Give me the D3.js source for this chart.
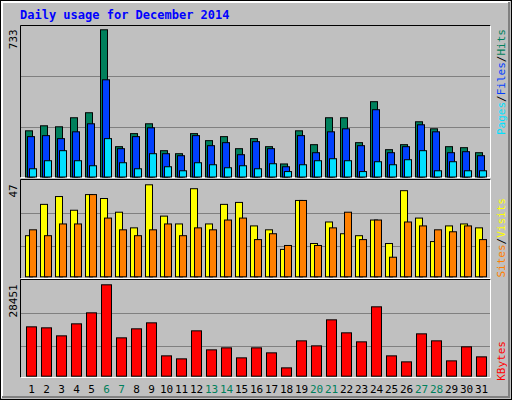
<!DOCTYPE html><html><head><script src="https://cdn.jsdelivr.net/npm/d3@7"></script>
<style>body{margin:0;background:#fff}</style></head><body>
<script>
const days = d3.range(1,32);
const weekend = [6,7,13,14,20,21,27,28];
const hits  = [230,255,250,295,320,733,151,216,265,131,116,216,181,201,141,191,151,65,230,161,295,295,171,375,136,161,275,240,151,146,121];
const files = [201,206,191,225,265,484,141,201,245,116,106,206,156,171,111,176,141,51,206,121,225,240,156,335,121,151,260,225,121,126,106];
const pages = [41,81,131,81,56,191,71,41,116,51,31,71,61,46,56,41,66,27,61,81,91,81,27,76,61,86,131,31,76,31,31];
const sites = [21,37,41,34,42,40,33,25,47,31,27,45,27,37,38,26,24,14,39,17,28,22,21,29,17,44,30,18,26,27,25];
const visits= [24,21,27,27,42,30,24,21,24,27,21,25,24,29,30,19,22,16,39,16,25,33,19,29,10,28,26,24,23,26,19];
const kbytes= [15365,15055,12563,16300,19725,28451,11940,14745,16610,6333,5400,14120,8200,8825,5710,8825,7268,2596,11005,9448,17545,13500,10694,21597,6333,4464,13186,11005,4776,9137,6022];

const W=512,H=400;
const svg=d3.select("body").append("svg").attr("width",W).attr("height",H);
svg.append("rect").attr("width",W).attr("height",H).attr("fill","#c0c0c0");
// outer bevel
svg.append("rect").attr("x",0.5).attr("y",0.5).attr("width",W-1).attr("height",H-1).attr("fill","none").attr("stroke","#000");
svg.append("path").attr("d",`M2,${H-2}V2H${W-2}`).attr("stroke","#fff").attr("fill","none").attr("stroke-width",2);
svg.append("path").attr("d",`M2,${H-3}H${W-3}V2`).attr("stroke","#808080").attr("fill","none").attr("stroke-width",2);

svg.append("text").attr("x",20).attr("y",19).text("Daily usage for December 2014")
 .attr("font-family","DejaVu Sans Mono").attr("font-weight","bold").attr("font-size",12).attr("fill","#0000ff");

const x=d3.scaleBand().domain(days).range([20,485]).paddingInner(0).paddingOuter(0);
const mono="DejaVu Sans Mono";

function panel(y0,y1,max){
  const g=svg.append("g");
  g.append("rect").attr("x",20.5).attr("y",y0+0.5).attr("width",470).attr("height",y1-y0).attr("fill","#c0c0c0");
  g.append("path").attr("d",`M20.5,${y1+0.5}V${y0+0.5}H490.5`).attr("stroke","#000").attr("fill","none");
  g.append("path").attr("d",`M20.5,${y1+0.5}H490.5V${y0+0.5}`).attr("stroke","#fff").attr("fill","none");
  return g;
}
const y1s=d3.scaleLinear().domain([0,733]).range([176.5,29.3]);
const y2s=d3.scaleLinear().domain([0,47]).range([276.3,184.3]);
const y3s=d3.scaleLinear().domain([0,28451]).range([375.7,284.3]);

const g1=panel(25,177,733), g2=panel(179,278,47), g3=panel(279,377,28451);
function grid(g,ys){[y=>y].forEach(()=>{});}
[[g1,[76,127]],[g2,[213,246]],[g3,[313,346]]].forEach(([g,ls])=>ls.forEach(l=>
  g.append("line").attr("x1",21).attr("x2",490).attr("y1",l+0.5).attr("y2",l+0.5).attr("stroke","#808080")));

function bars(g,data,ys,off,w,color){
  g.selectAll(null).data(data).enter().append("rect")
   .attr("x",(d,i)=>x(days[i])+off+0.5).attr("width",w)
   .attr("y",d=>ys(d)+0.5).attr("height",d=>ys(0)-ys(d))
   .attr("fill",color).attr("stroke","#000").attr("stroke-width",1);
}
bars(g1,hits,y1s,5,7,"#00805c");
bars(g1,files,y1s,7,7,"#0040ff");
bars(g1,pages,y1s,9,7,"#00e0ff");
bars(g2,sites,y2s,5,7,"#ffff00");
bars(g2,visits,y2s,9,7,"#ff8000");
bars(g3,kbytes,y3s,6,10,"#ff0000");

// max labels
[[733,y1s],[47,y2s],[28451,y3s]].forEach(([v,ys])=>{
  svg.append("text").attr("transform",`translate(17,${ys(v)}) rotate(-90)`).attr("text-anchor","end")
   .attr("font-family",mono).attr("font-size",11).text(v);
});
// day labels
svg.selectAll(".d").data(days).enter().append("text")
 .attr("x",d=>x(d)+11.5).attr("y",393).attr("text-anchor","middle")
 .attr("font-family",mono).attr("font-size",11)
 .attr("fill",d=>weekend.includes(d)?"#00805c":"#000").text(d=>d);

function rlabel(yEnd,parts){
  const t=svg.append("text").attr("transform",`translate(505,${yEnd}) rotate(-90)`).attr("text-anchor","end")
   .attr("font-family",mono).attr("font-size",11);
  parts.forEach(([s,c])=>t.append("tspan").attr("fill",c).text(s));
}
rlabel(29,[["Pages","#00e0ff"],["/","#000"],["Files","#0040ff"],["/","#000"],["Hits","#00805c"]]);
rlabel(198,[["Sites","#ff8000"],["/","#000"],["Visits","#ffff00"]]);
rlabel(341,[["KBytes","#ff0000"]]);
</script></body></html>
